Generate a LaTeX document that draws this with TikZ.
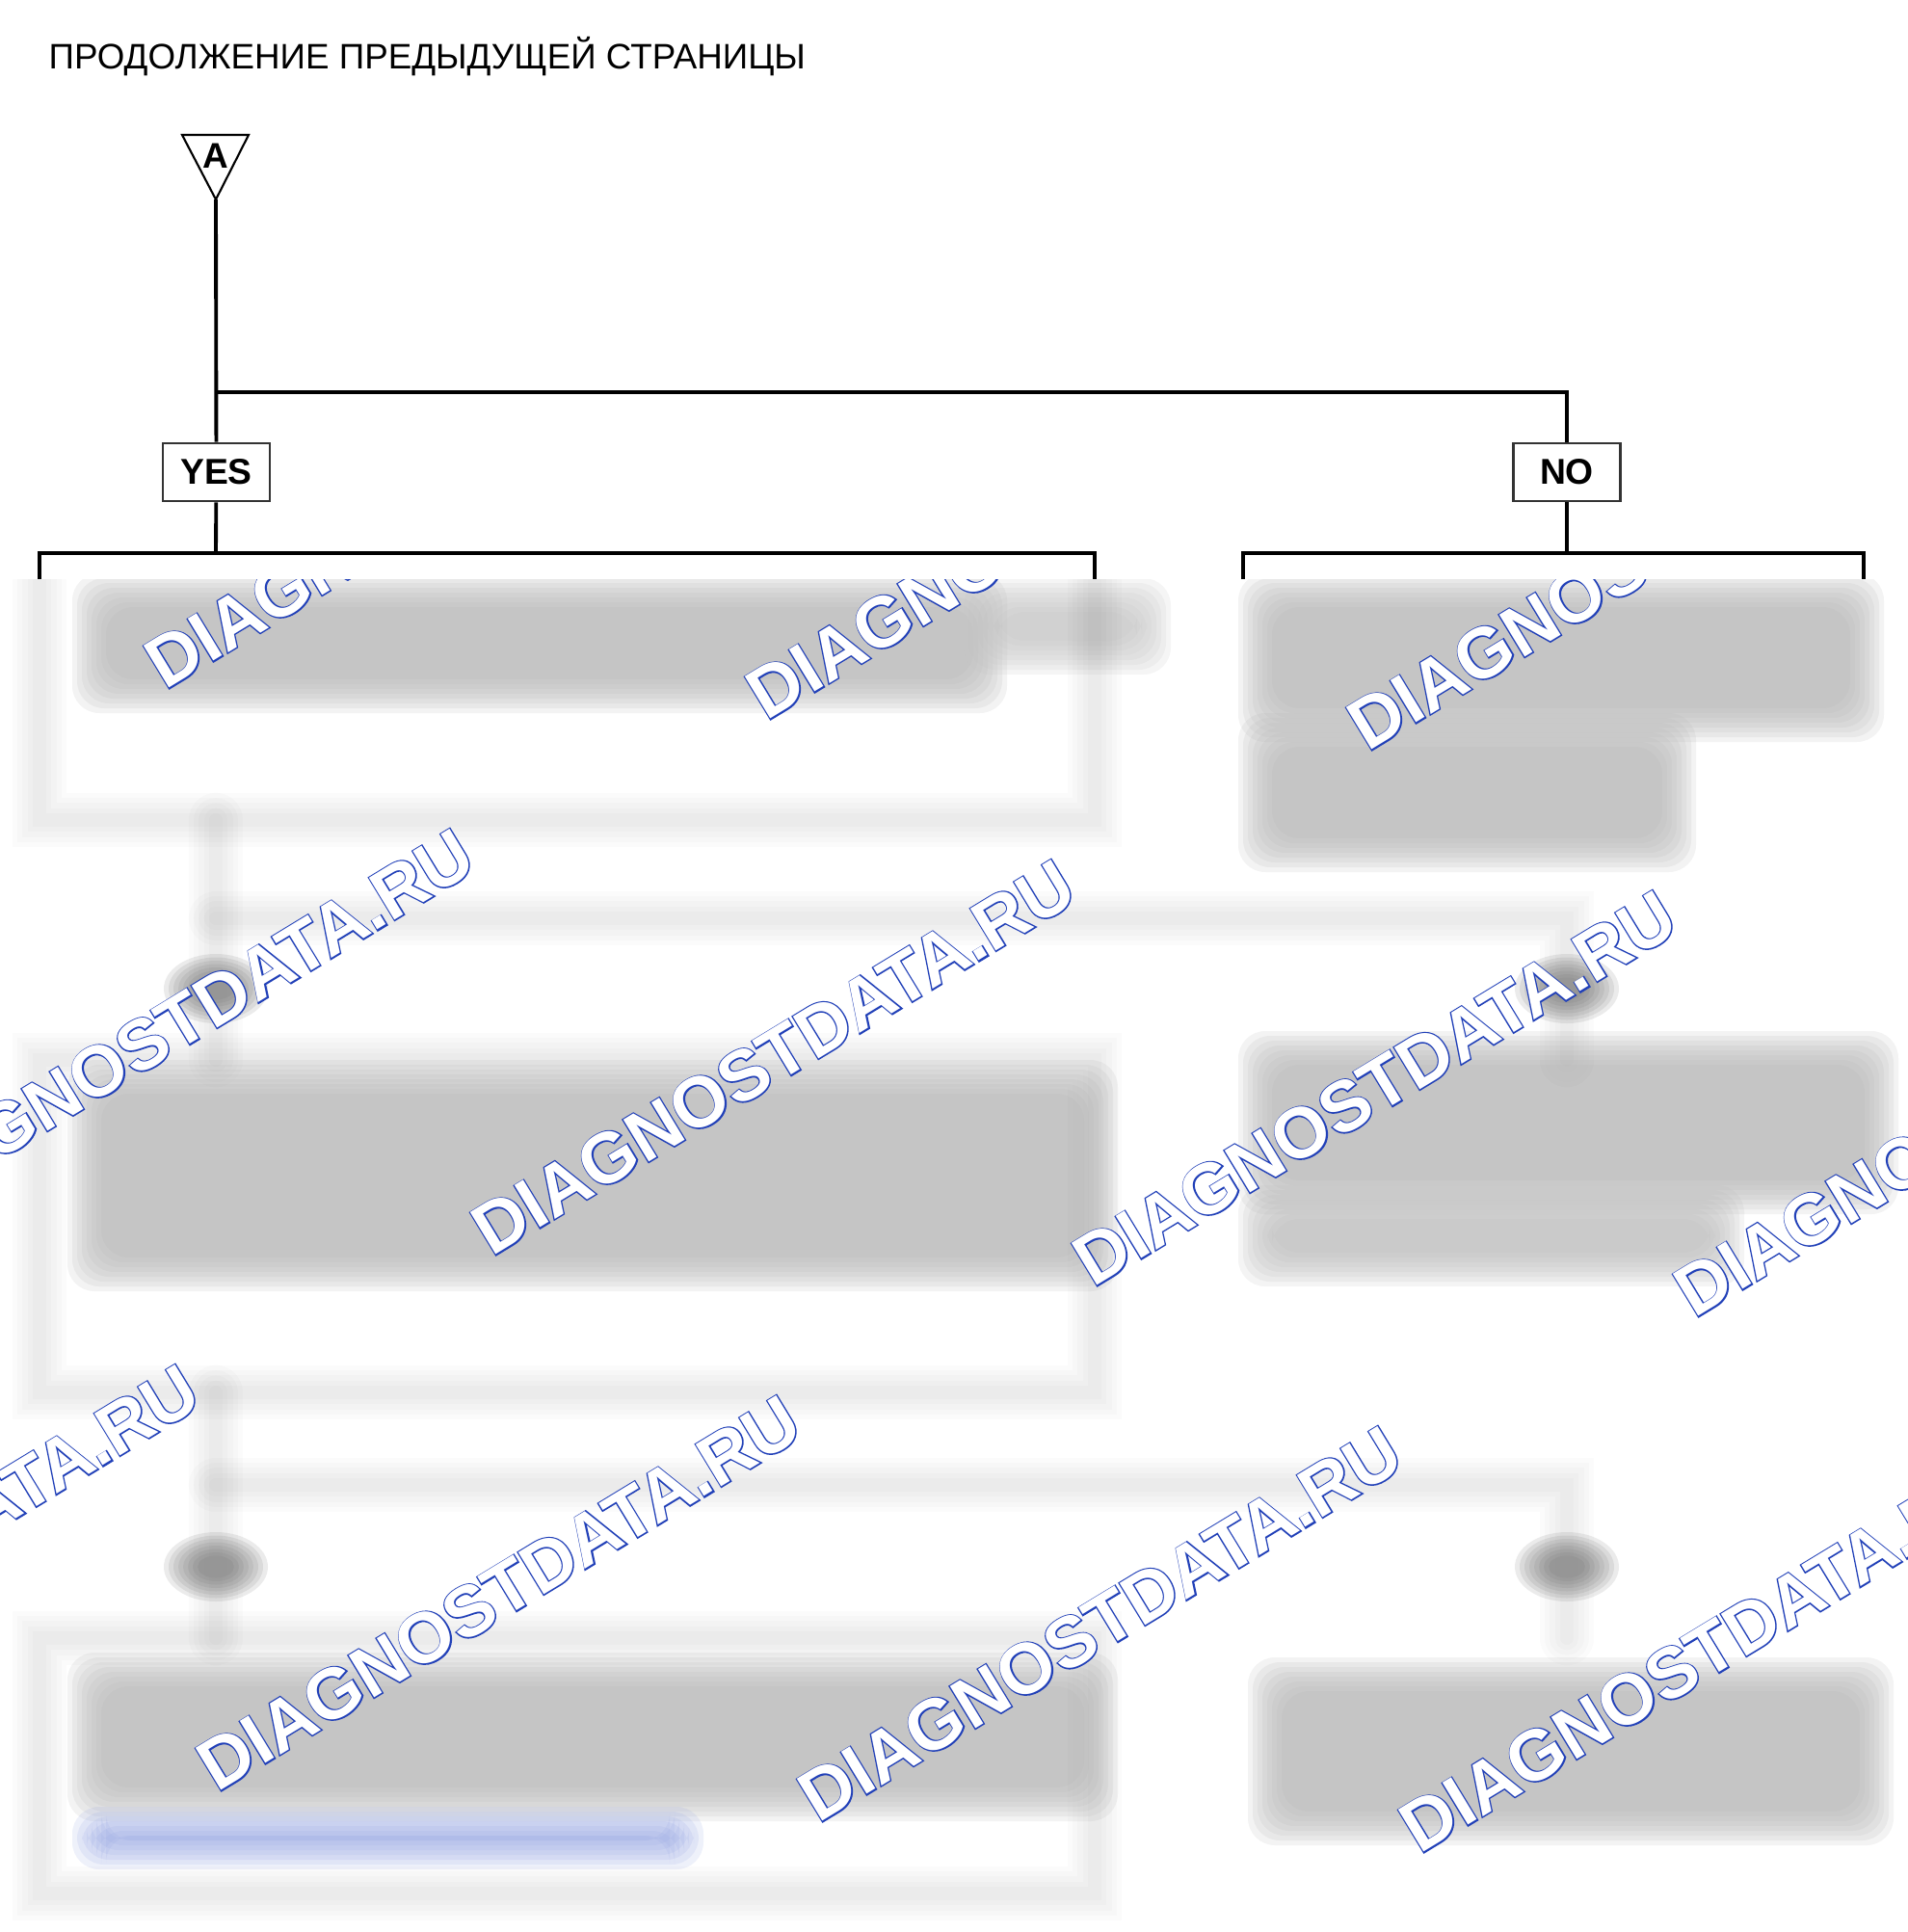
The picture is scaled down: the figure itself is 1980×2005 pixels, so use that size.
\documentclass[tikz,border=0pt]{standalone}
\usepackage{fontspec}
\setmainfont{Liberation Sans}
\newfontfamily\wmthick[FakeBold=3.5]{Liberation Sans Bold}
\newfontfamily\wmthin{Liberation Sans Bold}
\usetikzlibrary{positioning}

\definecolor{wmblue}{RGB}{33,64,184}
\definecolor{linkblue}{RGB}{150,165,225}

% soft blurred block
\newcommand\smudge[5]{\foreach \k in {0,...,7}{\fill[#5, fill opacity=0.16, rounded corners=8pt] ({#1+5*\k},{#2+5*\k}) rectangle ({#3-5*\k},{#4-5*\k});}}
% soft blurred box of a YES/NO label
\newcommand\dab[2]{\foreach \k in {0,...,7}{\fill[black!55, fill opacity=0.14] (#1,#2) ellipse ({54-5*\k} and {36-3.5*\k});}}
% soft blurred line
\newcommand\hazeline[1]{\foreach \lw in {16,13,10,7,4}{\draw[black, draw opacity=0.016, line width=\lw pt, line cap=round] #1;}}

\tikzset{
  link/.style={line width=1.1pt},
  answer/.style={draw=black!80, line width=0.8pt, fill=white, inner sep=0pt,
    minimum width=1.11cm, minimum height=0.6cm, font=\bfseries\fontsize{10.6}{12}\selectfont},
  wmark/.style={anchor=base west, inner sep=0pt, rotate=31.3, text=wmblue,
    font=\wmthick\fontsize{21.1}{24}\selectfont},
  wmfill/.style={wmark, text=white, font=\wmthin\fontsize{21.1}{24}\selectfont}
}

\begin{document}
\begin{tikzpicture}[x=0.01cm, y=-0.01cm]
	\useasboundingbox (0,0) rectangle (1980,2005);

	\begin{scope}
	\clip (0,601) rectangle (1980,2005);
	% blurred lower part
	\smudge{75}{595}{1045}{740}{black!30}
	\smudge{1000}{600}{1215}{700}{black!24}
	\smudge{1285}{595}{1955}{770}{black!30}
	\smudge{1285}{740}{1760}{905}{black!30}
	\hazeline{(41,590) -- (41,851) -- (1136,851) -- (1136,590)}
	\hazeline{(224,851) -- (224,1100)}
	\hazeline{(224,953) -| (1626,1100)}
	\dab{224}{1026}
	\dab{1626}{1026}
	\hazeline{(41,1100) rectangle (1136,1445)}
	\smudge{70}{1100}{1160}{1340}{black!30}
	\smudge{1285}{1070}{1970}{1260}{black!30}
	\smudge{1285}{1230}{1810}{1335}{black!28}
	\hazeline{(224,1445) -- (224,1700)}
	\hazeline{(224,1541) -| (1626,1700)}
	\dab{224}{1626}
	\dab{1626}{1626}
	\hazeline{(41,1700) rectangle (1136,1965)}
	\smudge{70}{1715}{1160}{1890}{black!30}
	\smudge{75}{1875}{730}{1940}{linkblue}
	\smudge{1295}{1720}{1965}{1915}{black!30}

	\foreach \i in {-1,...,2}
	  \foreach \j in {-1,...,1}{
	    \node[wmark] (wm\i\j) at ({510+624*\i-285*\j},{1305+32*\i+556*\j}) {DIAGNOSTDATA.RU};
	    \node[wmfill] (wmtop\i\j) at (wm\i\j.base west) {DIAGNOSTDATA.RU};
	  }
	\end{scope}

	\node[anchor=base west, inner sep=0pt, font=\fontsize{10.45}{13}\selectfont] (title) at (50,71) {ПРОДОЛЖЕНИЕ ПРЕДЫДУЩЕЙ СТРАНИЦЫ};

	\coordinate (apex) at (224,207);
	\draw[line width=0.6pt] (189,140) -- (258,140) -- (apex) -- cycle;
	\node[inner sep=0pt, font=\bfseries\fontsize{10.5}{11}\selectfont] (a) at (224,162) {A};

	\node[answer] (yes) at (224.5,490) {YES};
	\node[answer] (no) at (1626,490) {NO};
	\coordinate (split) at (224,407);
	\coordinate (yesfork) at (224,574);
	\coordinate (nofork) at (1626,574);

	\draw[link] (apex) -- (yes);
	\draw[link] (split) -| (no);
	\draw[link] (yes) -- (yesfork);
	\draw[link] (no) -- (nofork);
	\draw[link] (41,601) |- (1136,574) -- (1136,601);
	\draw[link] (1290,601) |- (1934,574) -- (1934,601);
\end{tikzpicture}
\end{document}
